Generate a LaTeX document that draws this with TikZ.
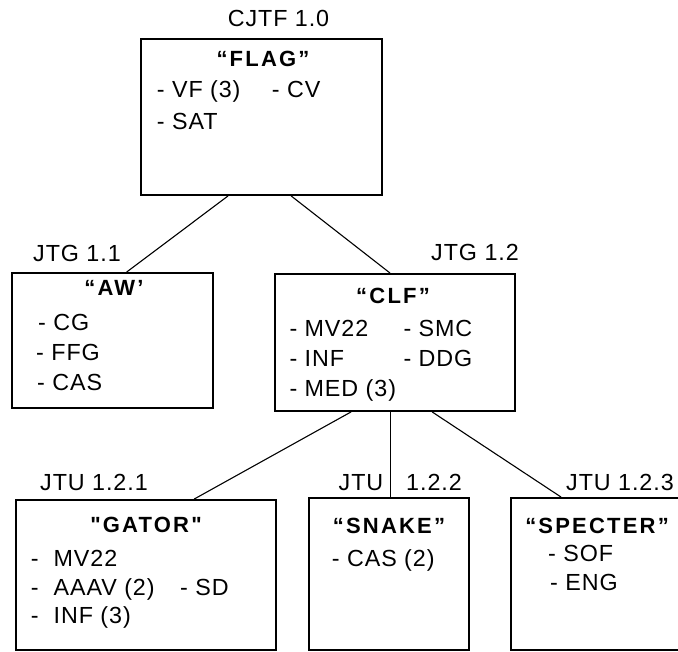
\documentclass[tikz,border=0pt]{standalone}
\usepackage{fontspec}
\setmainfont{Liberation Sans}[LetterSpace=4]
\newfontfamily\ttlfamily{Liberation Sans}[LetterSpace=10]
\newcommand\regfnt{\fontsize{23.3}{28}\selectfont}
\newcommand\ttlfnt{\ttlfamily\bfseries\fontsize{22}{26}\selectfont}
\begin{document}
\begin{tikzpicture}[x=1pt,y=-1pt,
  box/.style={draw=black, line width=1.8pt, inner sep=0pt, rectangle},
  link/.style={draw=black, line width=1.1pt},
  lbl/.style={anchor=base, inner sep=0pt, font=\regfnt},
  item/.style={anchor=base west, inner sep=0pt, font=\regfnt},
  ttl/.style={anchor=base, inner sep=0pt, font=\ttlfnt}]
\useasboundingbox (0,0) rectangle (678,652);
\clip (0,0) rectangle (678,652);
\fill[white] (0,0) rectangle (678,652);

% boxes
\node[box, minimum width=241pt, minimum height=156pt] (flag) at (261.5,117) {};
\node[box, minimum width=201pt, minimum height=135pt] (aw) at (112.5,340.5) {};
\node[box, minimum width=240pt, minimum height=137pt] (clf) at (395,342.5) {};
\node[box, minimum width=260pt, minimum height=150pt] (gator) at (146,575) {};
\node[box, minimum width=160pt, minimum height=152pt] (snake) at (389,574) {};
\node[box, minimum width=189pt, minimum height=152pt] (specter) at (605.5,574) {};

% connectors
\draw[link] ([xshift=88pt]flag.south west) -- ([xshift=115.5pt]aw.north west);
\draw[link] ([xshift=151pt]flag.south west) -- ([xshift=116pt]clf.north west);
\draw[link] ([xshift=77pt]clf.south west) -- ([xshift=179pt]gator.north west);
\draw[link] ([xshift=116pt]clf.south west) -- ([xshift=82pt]snake.north west);
\draw[link] ([xshift=158pt]clf.south west) -- ([xshift=51pt]specter.north west);

% labels
\node[lbl] (lcjtf) at (278.5,27) {CJTF 1.0};
\node[lbl] (ljtga) at (77,262) {JTG 1.1};
\node[lbl] (ljtgb) at (475,261) {JTG 1.2};
\node[lbl] (ljtua) at (94,490) {JTU 1.2.1};
\node[lbl] (ljtub) at (361,490) {JTU};
\node[lbl] (ljtuc) at (434,490) {1.2.2};
\node[lbl] (ljtud) at (620,490) {JTU 1.2.3};

% FLAG
\node[ttl] (tflag) at (263,67) {“FLAG”};
\node[item] (flag1) at (156.7,98) {- VF (3)};
\node[item] (flag2) at (271.7,98) {- CV};
\node[item] (flag3) at (156.7,130) {- SAT};

% AW
\node[ttl] (taw) at (114,296) {“AW’};
\node[item] (aw1) at (38,331) {- CG};
\node[item] (aw2) at (36,361) {- FFG};
\node[item] (aw3) at (37,391) {- CAS};

% CLF
\node[ttl] (tclf) at (393,304) {“CLF”};
\node[item] (clf1) at (289.3,337) {- MV22};
\node[item] (clf2) at (403.3,337) {- SMC};
\node[item] (clf3) at (289.3,366.5) {- INF};
\node[item] (clf4) at (403.3,366.5) {- DDG};
\node[item] (clf5) at (289.3,396.5) {- MED (3)};

% GATOR
\node[ttl] (tgator) at (146,532.5) {"GATOR"};
\node[item] (gat1) at (30.7,566.5) {-\hspace{15pt}MV22};
\node[item] (gat2) at (30.7,595) {-\hspace{15pt}AAAV (2)};
\node[item] (gat3) at (180,595) {- SD};
\node[item] (gat4) at (30.7,623) {-\hspace{15pt}INF (3)};

% SNAKE
\node[ttl] (tsnake) at (389,533) {“SNAKE”};
\node[item] (snk1) at (331.7,566.5) {- CAS (2)};

% SPECTER
\node[ttl] (tspec) at (597,533) {“SPECTER”};
\node[item] (spc1) at (548,561.5) {- SOF};
\node[item] (spc2) at (550,590) {- ENG};
\end{tikzpicture}
\end{document}
